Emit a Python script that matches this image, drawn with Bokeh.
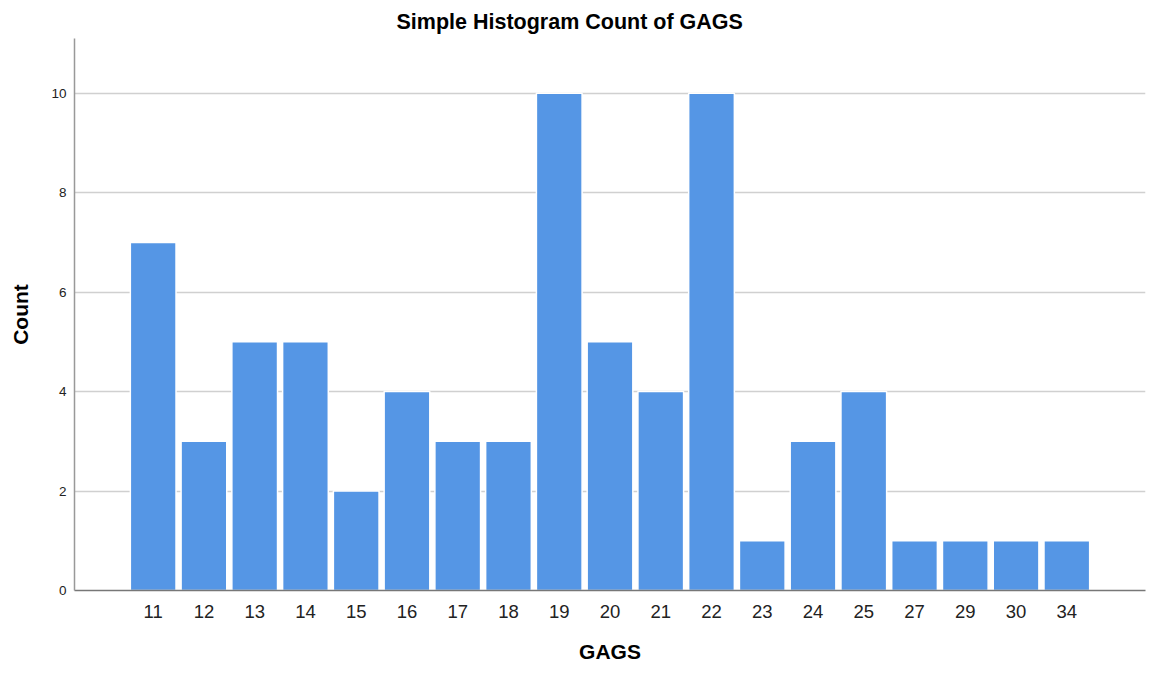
from bokeh.plotting import figure
from bokeh.models import FactorRange, Range1d, ColumnDataSource, FixedTicker
from bokeh.embed import file_html
from bokeh.resources import INLINE

categories = ["11", "12", "13", "14", "15", "16", "17", "18", "19", "20",
              "21", "22", "23", "24", "25", "27", "29", "30", "34"]
counts = [7, 3, 5, 5, 2, 4, 3, 3, 10, 5, 4, 10, 1, 3, 4, 1, 1, 1, 1]
y_ticks = [0, 2, 4, 6, 8, 10]
grid_ticks = [2, 4, 6, 8, 10]

source = ColumnDataSource(data=dict(gags=categories, count=counts))

FONT = "Liberation Sans"

p = figure(
    width=1150, height=673,
    x_range=FactorRange(factors=categories, range_padding=1.05, range_padding_units="absolute"),
    y_range=Range1d(0, 11.1),
    output_backend="svg", toolbar_location=None,
    min_border_left=74, min_border_right=5, min_border_top=38, min_border_bottom=83,
)

p.vbar(x="gags", top="count", width=0.9, source=source,
       fill_color="#5596e5", line_color="white", line_width=1.5)

p.title.text = "Simple Histogram Count of GAGS"
p.title.text_font = FONT
p.title.text_font_size = "21.5px"
p.title.text_font_style = "bold"
p.title.align = "left"
p.title.offset = 322
p.title.standoff = 10
p.title.text_color = "black"

p.outline_line_color = None
p.xgrid.grid_line_color = None
p.ygrid.grid_line_color = "#d0d0d0"
p.ygrid.grid_line_width = 1.5
p.ygrid.ticker = FixedTicker(ticks=grid_ticks)

p.yaxis.ticker = FixedTicker(ticks=y_ticks)
p.yaxis.axis_label = "Count"
p.xaxis.axis_label = "GAGS"
for ax in (p.xaxis, p.yaxis):
    ax.axis_label_text_font = FONT
    ax.axis_label_text_font_style = "bold"
    ax.axis_label_text_font_size = "21px"
    ax.axis_label_text_color = "black"
    ax.major_label_text_font = FONT
    ax.major_label_text_color = "#222222"
    ax.major_tick_line_color = None
    ax.minor_tick_line_color = None
    ax.major_tick_out = 0
    ax.major_tick_in = 0

p.yaxis.axis_line_color = "#999999"
p.yaxis.axis_line_width = 1.5
p.xaxis.axis_line_color = "#777777"
p.xaxis.axis_line_width = 1.5
p.yaxis.major_label_text_font_size = "13.5px"
p.xaxis.major_label_text_font_size = "18.5px"
p.yaxis.major_label_standoff = 8
p.xaxis.major_label_standoff = 14
p.yaxis.axis_label_standoff = 16
p.xaxis.axis_label_standoff = 19

open("out.html", "w").write(file_html(p, INLINE))
